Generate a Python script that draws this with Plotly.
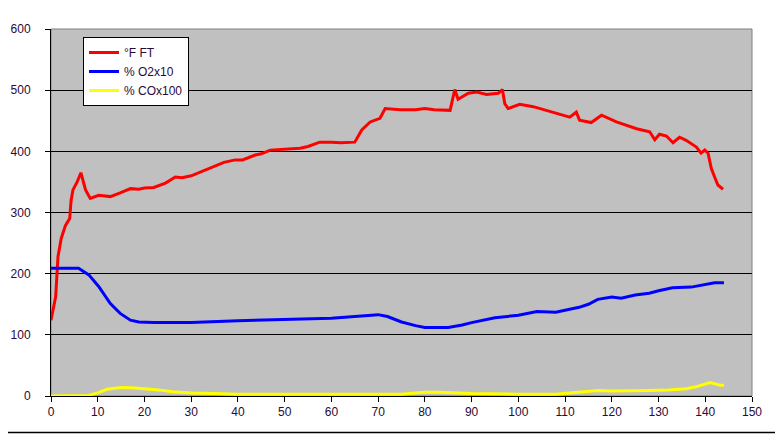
import plotly.graph_objects as go

# ---- data ----
ft_t = [0, 1, 1.5, 2.2, 3.1, 4.0, 4.3, 4.7, 5.6, 6.4, 7.4, 8.4, 10.2, 12.7, 14.8, 17, 18.8, 20, 22,
        24.5, 26.6, 28, 30, 31.9, 33, 35.1, 37, 39.4, 41, 43.7, 45, 46.9, 50, 53.3, 55, 57.5, 60, 62,
        65, 66.5, 68.3, 70.4, 71.5, 74.7, 78, 80, 82, 85.4, 86.4, 87.1, 89.3, 91.1, 93.2, 95.7, 96.6,
        97.1, 97.8, 100.3, 103.2, 107.4, 111, 112.4, 113.1, 115.6, 117.8, 121, 125.3, 128.1, 129.2,
        130.2, 131.7, 133.1, 134.5, 135.9, 138.1, 139.1, 139.9, 140.6, 140.9, 141.3, 142, 142.7, 143.8]
ft_v = [124, 162, 228, 258, 279, 290, 320, 337, 350, 365, 337, 323, 328, 326, 332, 339, 338, 340, 341,
        348, 358, 357, 360, 366, 370, 377, 382, 386, 386, 394, 396, 402, 403, 405, 408, 415, 415, 414,
        415, 435, 448, 454, 470, 468, 468, 470, 468, 467, 501, 485, 495, 497, 493, 495, 501,
        478, 470, 477, 473, 464, 456, 464, 451, 447, 459, 448, 437, 432, 419,
        428, 425, 414, 423, 418, 407, 397, 402, 397, 388, 372, 358, 345, 338]

o2_t = [0, 3, 5.9, 8.1, 10.2, 12.7, 14.8, 17, 18.8, 22, 30, 40, 50, 60, 65, 70, 72, 75, 78, 80, 85,
        88, 90, 95, 100, 104, 108, 110, 113, 115, 117, 120, 122, 125, 128, 130, 133, 137, 140, 142, 144]
o2_v = [209, 209, 209, 198, 179, 151, 135, 124, 121, 120, 120, 123, 125, 127, 130, 133, 130, 121, 115,
        112, 112, 116, 120, 128, 132, 138, 137, 140, 145, 150, 158, 162, 160, 165, 168, 172, 177, 178,
        182, 185, 185]

co_t = [0, 5, 8, 10, 12, 14, 16, 18, 20, 23, 26, 30, 35, 40, 50, 60, 70, 75, 78, 80, 83, 86, 90, 100,
        108, 111, 114, 117, 120, 124, 128, 132, 136, 138, 140, 141, 143, 144]
co_v = [0, 0, 1, 5, 11, 13, 14, 13, 12, 10, 7, 5, 4, 3, 3, 3, 3, 3, 5, 6, 6, 5, 4, 3,
        3, 5, 7, 9, 8, 8, 9, 10, 12, 15, 20, 22, 18, 17]

series_names = ["°F FT", "% O2x10", "% COx100"]
x_ticks = list(range(0, 151, 10))
y_ticks = list(range(0, 601, 100))

FONT = "Arial, Liberation Sans, sans-serif"
TXT = "#2a0a36"

fig = go.Figure()
fig.add_trace(go.Scatter(x=ft_t, y=ft_v, mode="lines", name=series_names[0],
                         line=dict(color="#FF0000", width=3)))
fig.add_trace(go.Scatter(x=o2_t, y=o2_v, mode="lines", name=series_names[1],
                         line=dict(color="#0000FF", width=3)))
fig.add_trace(go.Scatter(x=co_t, y=co_v, mode="lines", name=series_names[2],
                         line=dict(color="#FFFF00", width=3)))

OFF = 8  # page body margin
W, H = 783 - OFF, 444 - OFF
L, R, T, B = 51 - OFF, 752 - OFF, 29 - OFF, 396 - OFF

def px(xp):
    return (xp - OFF - L) / (R - L)

def py(yp):
    return (B - (yp - OFF)) / (B - T)

fig.update_layout(
    width=W, height=H,
    margin=dict(l=L, r=W - R, t=T, b=H - B, pad=0, autoexpand=False),
    paper_bgcolor="white", plot_bgcolor="#C0C0C0",
    font=dict(family=FONT, size=12, color=TXT),
    showlegend=True,
    legend=dict(x=px(83), y=py(37), xanchor="left", yanchor="top",
                bgcolor="white", bordercolor="black", borderwidth=1,
                font=dict(family=FONT, size=12, color=TXT),
                itemwidth=30, tracegroupgap=0),
    xaxis=dict(range=[0, 150], tickvals=x_ticks, ticktext=[str(v) for v in x_ticks],
               showgrid=False, zeroline=False, showline=True, linecolor="black", linewidth=1,
               automargin=False,
               ticks="outside", ticklen=5, tickcolor="black", tickfont=dict(size=12, color=TXT)),
    yaxis=dict(range=[0, 600], tickvals=y_ticks, ticktext=[str(v) for v in y_ticks],
               showgrid=True, gridcolor="black", gridwidth=1, zeroline=False,
               showline=True, linecolor="black", linewidth=1, ticklabelstandoff=12,
               automargin=False,
               ticks="outside", ticklen=5, tickcolor="black", tickfont=dict(size=12, color=TXT)),
    shapes=[
        dict(type="rect", xref="paper", yref="paper", x0=0, x1=1, y0=0, y1=1,
             line=dict(color="#808080", width=1), layer="below"),
        dict(type="rect", xref="paper", yref="paper", x0=px(2.5), x1=px(778),
             y0=py(432.5), y1=py(2.5), line=dict(color="black", width=1.5)),
    ],
)

fig.write_html("out.html")
